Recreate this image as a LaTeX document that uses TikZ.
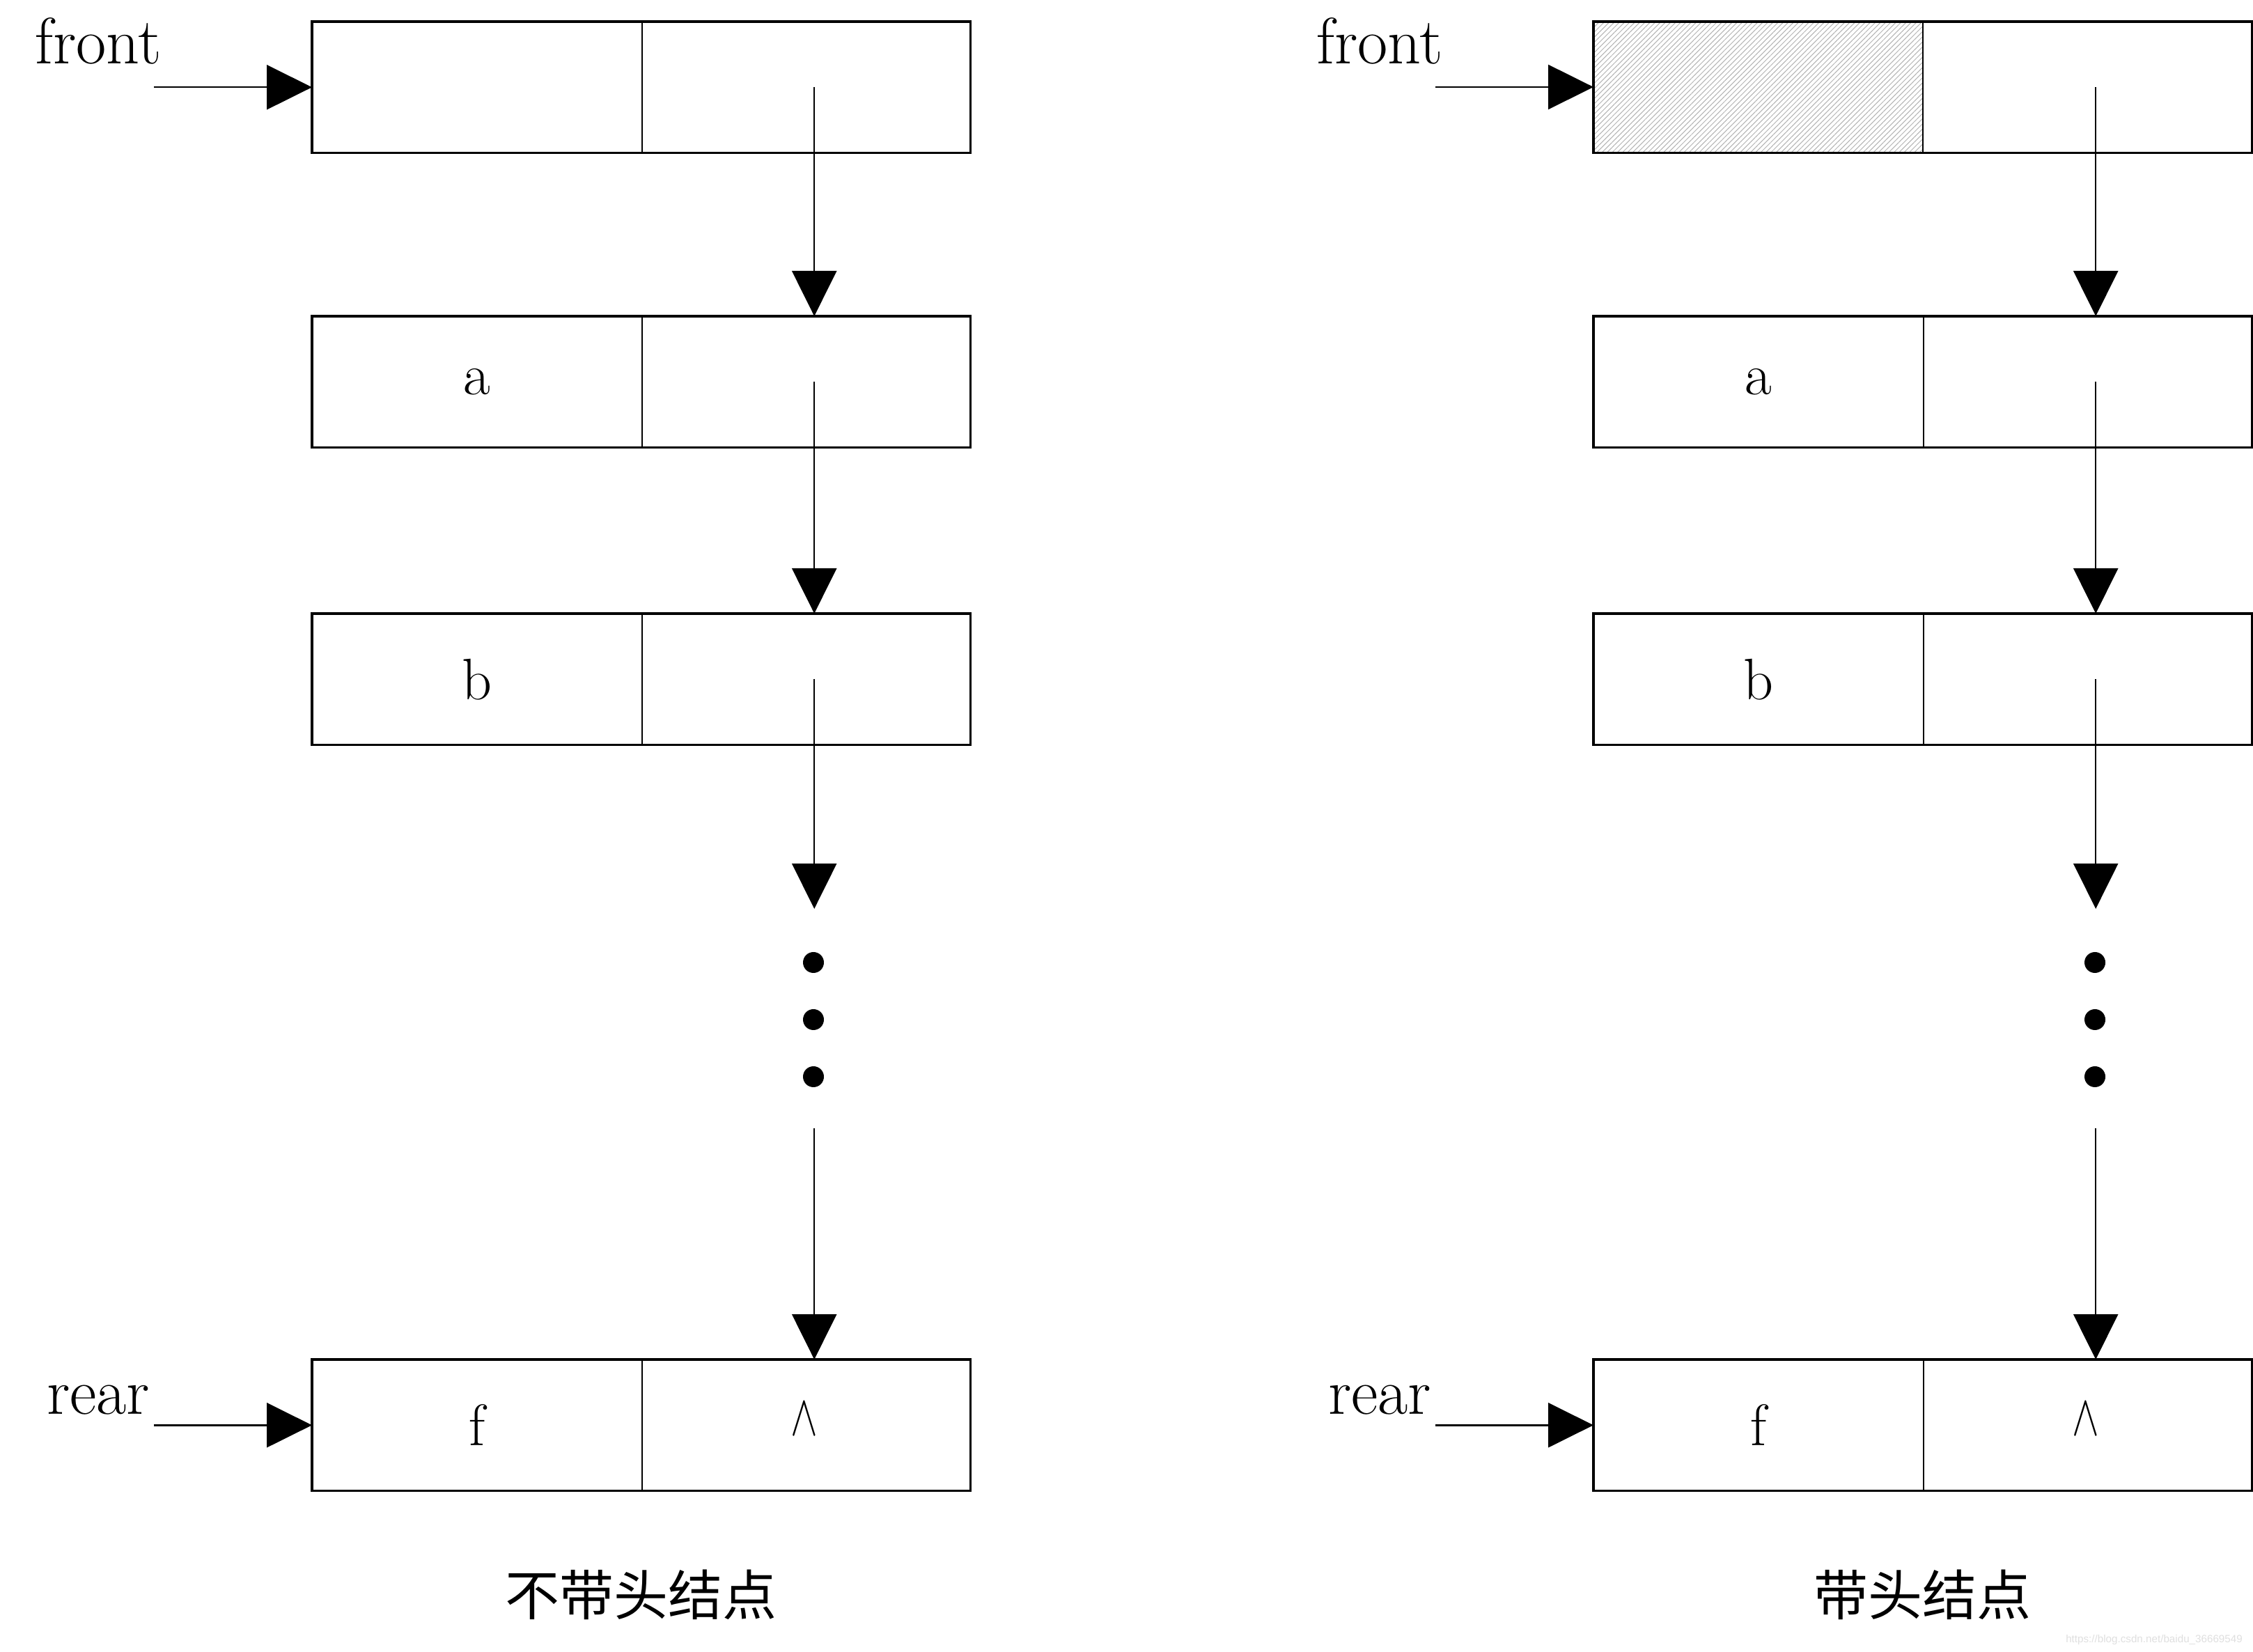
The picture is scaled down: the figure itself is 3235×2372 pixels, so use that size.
\documentclass[tikz,border=0pt]{standalone}
\usepackage{fontspec}
\newfontfamily\cjk{Noto Sans CJK SC}
\newfontfamily\wmfont{Liberation Sans}
\usetikzlibrary{arrows.meta,patterns.meta}
\begin{document}
\begin{tikzpicture}[x=0.25pt,y=-0.25pt,
  cell/.style={minimum width=118pt,minimum height=46.75pt,inner sep=0pt,anchor=north west,font=\fontsize{21}{21}\selectfont},
  boxline/.style={line width=0.8pt},
  divline/.style={line width=0.5pt},
  ptr/.style={line width=0.6pt,-{Triangle[length=16.25pt,width=16pt]}},
  lbl/.style={font=\fontsize{23.5}{23.5}\selectfont,anchor=base,inner sep=0pt},
  captext/.style={font=\cjk\fontsize{19.5}{19.5}\selectfont,inner sep=0pt},
  dotmark/.style={circle,fill=black,inner sep=0pt,minimum size=7.5pt},
  hatch/.style={pattern={Lines[angle=45,distance=1.3pt,line width=0.25pt]},pattern color=gray!60},
  nullmark/.style={inner sep=0pt,font=\fontsize{20}{20}\selectfont,xscale=0.7}]
\useasboundingbox (0,0) rectangle (3235,2372);

% ---------- left panel ----------
\node[cell] (L1a) at (448,31) {};
\node[cell] (L1b) at (920,31) {};
\node[cell] (L2a) at (448,454) {a};
\node[cell] (L2b) at (920,454) {};
\node[cell] (L3a) at (448,881) {b};
\node[cell] (L3b) at (920,881) {};
\node[cell] (L4a) at (448,1952) {f};
\node[cell] (L4b) at (920,1952) {};
\node[nullmark] (L4n) at (1155,2037) {$\wedge$};
\foreach \r in {1,2,3,4}{
  \draw[boxline] (L\r a.north west) rectangle (L\r b.south east);
  \draw[divline] (L\r a.north east) -- (L\r a.south east);
}
\node[lbl] (Lfront) at (141,92) {front};
\node[lbl] (Lrear) at (141,2030) {rear};
\coordinate (Lfs) at ([xshift=-56.75pt]L1a.west);
\coordinate (Lrs) at ([xshift=-56.75pt]L4a.west);
\draw[ptr] (Lfs) -- (L1a.west);
\draw[ptr] (Lrs) -- (L4a.west);
\draw[ptr] ([xshift=3.1pt]L1b.center) -- ([xshift=3.1pt]L2b.north);
\draw[ptr] ([xshift=3.1pt]L2b.center) -- ([xshift=3.1pt]L3b.north);
\coordinate (Lgap1) at ([xshift=3.1pt,yshift=-82.4pt]L3b.center);
\coordinate (Lgap2) at ([xshift=3.1pt,yshift=83pt]L4b.north);
\draw[ptr] ([xshift=3.1pt]L3b.center) -- (Lgap1);
\draw[ptr] (Lgap2) -- ([xshift=3.1pt]L4b.north);
\node[dotmark] (Ld1) at (1168,1382) {};
\node[dotmark] (Ld2) at (1168,1464) {};
\node[dotmark] (Ld3) at (1168,1546) {};
\node[captext] (Lcap) at (920,2290) {不带头结点};

% ---------- right panel ----------
\node[cell,hatch] (R1a) at (2288,31) {};
\node[cell] (R1b) at (2760,31) {};
\node[cell] (R2a) at (2288,454) {a};
\node[cell] (R2b) at (2760,454) {};
\node[cell] (R3a) at (2288,881) {b};
\node[cell] (R3b) at (2760,881) {};
\node[cell] (R4a) at (2288,1952) {f};
\node[cell] (R4b) at (2760,1952) {};
\node[nullmark] (R4n) at (2995,2037) {$\wedge$};
\foreach \r in {1,2,3,4}{
  \draw[boxline] (R\r a.north west) rectangle (R\r b.south east);
  \draw[divline] (R\r a.north east) -- (R\r a.south east);
}
\node[lbl] (Rfront) at (1981,92) {front};
\node[lbl] (Rrear) at (1981,2030) {rear};
\coordinate (Rfs) at ([xshift=-56.75pt]R1a.west);
\coordinate (Rrs) at ([xshift=-56.75pt]R4a.west);
\draw[ptr] (Rfs) -- (R1a.west);
\draw[ptr] (Rrs) -- (R4a.west);
\draw[ptr] ([xshift=3.1pt]R1b.center) -- ([xshift=3.1pt]R2b.north);
\draw[ptr] ([xshift=3.1pt]R2b.center) -- ([xshift=3.1pt]R3b.north);
\coordinate (Rgap1) at ([xshift=3.1pt,yshift=-82.4pt]R3b.center);
\coordinate (Rgap2) at ([xshift=3.1pt,yshift=83pt]R4b.north);
\draw[ptr] ([xshift=3.1pt]R3b.center) -- (Rgap1);
\draw[ptr] (Rgap2) -- ([xshift=3.1pt]R4b.north);
\node[dotmark] (Rd1) at (3008,1382) {};
\node[dotmark] (Rd2) at (3008,1464) {};
\node[dotmark] (Rd3) at (3008,1546) {};
\node[captext] (Rcap) at (2760,2290) {带头结点};

% watermark
\node[font=\wmfont\fontsize{3.8}{3.8}\selectfont,text=gray!25,inner sep=0pt] (wm) at (3093,2355) {https://blog.csdn.net/baidu\_36669549};
\end{tikzpicture}
\end{document}
